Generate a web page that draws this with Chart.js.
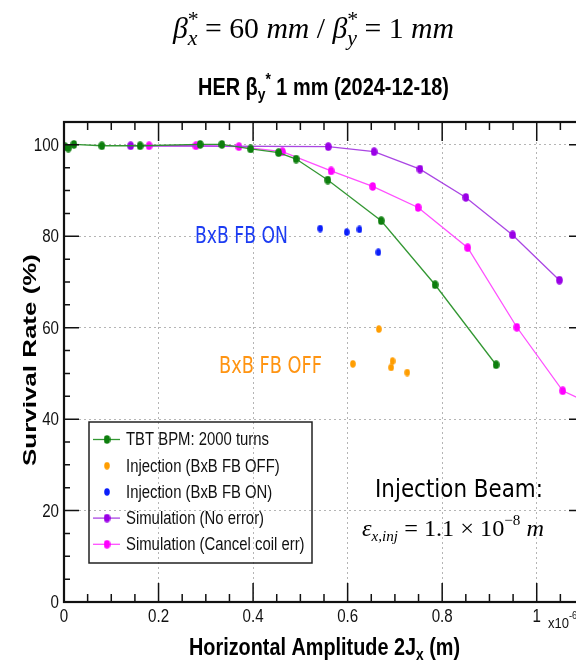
<!DOCTYPE html>
<html>
<head>
<meta charset="utf-8">
<script src="https://cdn.jsdelivr.net/npm/chart.js@4.4.1/dist/chart.umd.min.js"></script>
<style>
  html, body { margin: 0; padding: 0; background: #fff; overflow: hidden; }
  #wrap { width: 576px; height: 665px; overflow: hidden; }
  canvas { display: block; }
</style>
</head>
<body>
<div id="wrap"><canvas id="survivalChart" width="600" height="665"></canvas></div>
<script>
// Horizontal amplitude 2Jx (x1e-6 m) vs. survival rate (%)
const tbtAmp  = [0.002, 0.009, 0.021, 0.080, 0.161, 0.288, 0.334, 0.395, 0.454, 0.491, 0.558, 0.671, 0.785, 0.914];
const tbtRate = [99.6, 99.3, 100.1, 99.8, 99.8, 100.1, 100.1, 99.1, 98.3, 96.9, 92.3, 83.4, 69.4, 51.9];

const injOffAmp  = [0.611, 0.666, 0.692, 0.695, 0.726];
const injOffRate = [52.1, 59.7, 51.3, 52.7, 50.2];

const injOnAmp  = [0.542, 0.598, 0.625, 0.665];
const injOnRate = [81.7, 80.9, 81.5, 76.5];

const simAmp  = [0.141, 0.559, 0.656, 0.753, 0.850, 0.949, 1.048];
const simRate = [99.8, 99.6, 98.5, 94.7, 88.5, 80.3, 70.4];

const coilAmp  = [0.180, 0.279, 0.370, 0.462, 0.565, 0.653, 0.749, 0.854, 0.958, 1.055, 1.150];
const coilRate = [99.8, 99.8, 99.6, 98.5, 94.3, 90.9, 86.3, 77.5, 60.1, 46.2, 41.6];

const xTicks = [0, 0.2, 0.4, 0.6, 0.8, 1];
const xTickLabels = ['0', '0.2', '0.4', '0.6', '0.8', '1'];
const yTicks = [0, 20, 40, 60, 80, 100];
const yTickLabels = ['0', '20', '40', '60', '80', '100'];

const SANS = "'Liberation Sans', Arial, sans-serif";
const SERIF = "'Liberation Serif', 'Times New Roman', serif";
const DJV = "'DejaVu Sans', Verdana, sans-serif";

function toPoints(xs, ys) {
  return xs.map((v, i) => ({ x: v, y: ys[i] }));
}

// Slightly tall elliptical marker, drawn once and reused as pointStyle
function ellipseMark(color, w, h) {
  const c = document.createElement('canvas');
  c.width = w;
  c.height = h;
  const g = c.getContext('2d');
  g.fillStyle = color;
  g.beginPath();
  g.ellipse(w / 2, h / 2, w / 2 - 0.2, h / 2 - 0.2, 0, 0, Math.PI * 2);
  g.fill();
  return c;
}

/**
 * Draw a sequence of text runs (sub/superscripts), squeezed to a target width
 */
function drawRuns(ctx, runs, x, y, opts) {
  ctx.save();
  let natural = 0;
  runs.forEach(r => {
    ctx.font = r.font;
    if (!r.stack) natural += ctx.measureText(r.text).width;
  });
  const sx = opts.width ? opts.width / natural : (opts.sx || 1);
  ctx.translate(x, y);
  if (opts.rotate) ctx.rotate(opts.rotate);
  ctx.scale(sx, opts.sy || 1);
  let cx = opts.align === 'center' ? -natural / 2 : (opts.align === 'right' ? -natural : 0);
  ctx.fillStyle = opts.color || '#000';
  ctx.textBaseline = opts.baseline || 'alphabetic';
  runs.forEach(r => {
    ctx.font = r.font;
    ctx.fillText(r.text, cx, r.dy || 0);
    if (!r.stack) cx += ctx.measureText(r.text).width;
  });
  ctx.restore();
}

const decorations = {
  id: 'decorations',
  afterDraw(chart) {
    const { ctx, chartArea: a, scales: { x, y } } = chart;
    ctx.save();

    // inward ticks on all four sides
    ctx.strokeStyle = '#111';
    ctx.lineWidth = 1.5;
    ctx.beginPath();
    for (let i = 0; i * 0.05 <= x.max + 1e-9; i++) {
      const px = x.getPixelForValue(i * 0.05);
      const major = i % 4 === 0;
      ctx.moveTo(px, a.bottom);
      ctx.lineTo(px, a.bottom - (major ? 19 : 8));
      ctx.moveTo(px, a.top);
      ctx.lineTo(px, a.top + (major ? 19 : 8));
    }
    for (let j = 0; j * 5 <= y.max + 1e-9; j++) {
      const py = y.getPixelForValue(j * 5);
      const major = j % 4 === 0;
      ctx.moveTo(a.left, py);
      ctx.lineTo(a.left + (major ? 15 : 6), py);
      ctx.moveTo(a.right, py);
      ctx.lineTo(a.right - (major ? 15 : 6), py);
    }
    ctx.stroke();

    // frame
    ctx.lineWidth = 2.2;
    ctx.strokeRect(a.left, a.top, a.right - a.left, a.bottom - a.top);

    // tick labels
    ctx.fillStyle = '#111';
    xTicks.forEach((v, i) => {
      drawRuns(ctx, [{ text: xTickLabels[i], font: `18px ${SANS}` }],
        x.getPixelForValue(v), 617, { align: 'center', baseline: 'middle', sx: 0.84, color: '#111' });
    });
    yTicks.forEach((v, i) => {
      drawRuns(ctx, [{ text: yTickLabels[i], font: `18px ${SANS}` }],
        59, y.getPixelForValue(v) + 1, { align: 'right', baseline: 'middle', sx: 0.84, color: '#111' });
    });
    drawRuns(ctx, [
      { text: 'x10', font: `15.5px ${SANS}` },
      { text: '-6', font: `11px ${SANS}`, dy: -9 }
    ], 548, 628, { sx: 0.84, color: '#111' });

    // axis titles
    drawRuns(ctx, [
      { text: 'Horizontal Amplitude 2J', font: `bold 23px ${SANS}` },
      { text: 'x', font: `bold 16px ${SANS}`, dy: 5 },
      { text: ' (m)', font: `bold 23px ${SANS}` }
    ], 189, 655, { width: 271 });
    drawRuns(ctx, [{ text: 'Survival Rate (%)', font: `bold 25px ${SANS}` }],
      31, 360, { rotate: -Math.PI / 2, align: 'center', baseline: 'middle', width: 212, sy: 0.76 });

    // titles
    drawRuns(ctx, [
      { text: 'HER β', font: `bold 23px ${SANS}` },
      { text: 'y', font: `bold 16px ${SANS}`, dy: 5 },
      { text: '*', font: `bold 16px ${SANS}`, dy: -10 },
      { text: ' 1 mm (2024-12-18)', font: `bold 23px ${SANS}` }
    ], 198, 95, { width: 251 });
    drawRuns(ctx, [
      { text: 'β', font: `italic 30px ${SERIF}` },
      { text: '*', font: `22px ${SERIF}`, dy: -12, stack: true },
      { text: 'x', font: `italic 22px ${SERIF}`, dy: 7 },
      { text: ' = 60 ', font: `30px ${SERIF}` },
      { text: 'mm', font: `italic 30px ${SERIF}` },
      { text: ' / ', font: `30px ${SERIF}` },
      { text: 'β', font: `italic 30px ${SERIF}` },
      { text: '*', font: `22px ${SERIF}`, dy: -12, stack: true },
      { text: 'y', font: `italic 22px ${SERIF}`, dy: 7 },
      { text: ' = 1 ', font: `30px ${SERIF}` },
      { text: 'mm', font: `italic 30px ${SERIF}` }
    ], 173, 38, { width: 281 });

    // annotations
    drawRuns(ctx, [{ text: 'BxB FB ON', font: `23px ${DJV}` }], 195, 243, { width: 93, color: '#1c3cf2' });
    drawRuns(ctx, [{ text: 'BxB FB OFF', font: `23px ${DJV}` }], 219, 373, { width: 103, color: '#ff9412' });
    drawRuns(ctx, [{ text: 'Injection Beam:', font: `25px ${DJV}` }], 375, 497, { width: 168 });
    drawRuns(ctx, [
      { text: 'ε', font: `italic 24px ${SERIF}` },
      { text: 'x,inj', font: `italic 15px ${SERIF}`, dy: 5 },
      { text: ' = 1.1 × 10', font: `24px ${SERIF}` },
      { text: '−8', font: `15px ${SERIF}`, dy: -11 },
      { text: ' m', font: `italic 24px ${SERIF}` }
    ], 362, 536, { width: 182 });

    // legend
    const box = { left: 89, top: 422, right: 312, bottom: 563 };
    ctx.lineWidth = 1.5;
    ctx.strokeStyle = '#222';
    ctx.strokeRect(box.left, box.top, box.right - box.left, box.bottom - box.top);
    chart.data.datasets.forEach((ds, i) => {
      const rowY = 439.5 + i * 26.2;
      if (ds.showLine) {
        ctx.strokeStyle = ds.borderColor;
        ctx.lineWidth = 1.3;
        ctx.beginPath();
        ctx.moveTo(93, rowY);
        ctx.lineTo(120, rowY);
        ctx.stroke();
      }
      const mark = ds.pointStyle;
      ctx.drawImage(mark, 107 - mark.width / 2, rowY - mark.height / 2);
      drawRuns(ctx, [{ text: ds.label, font: `17.5px ${SANS}` }], 126, rowY + 1,
        { baseline: 'middle', sx: 0.85, color: '#111' });
    });

    ctx.restore();
  }
};

const gridColor = c => (c.tick && c.tick.value === 0) ? 'rgba(0,0,0,0)' : '#b5b5b5';

new Chart(document.getElementById('survivalChart'), {
  type: 'scatter',
  data: {
    datasets: [
      {
        label: 'TBT BPM: 2000 turns',
        data: toPoints(tbtAmp, tbtRate),
        showLine: true,
        borderColor: 'rgba(40,145,40,0.95)',
        borderWidth: 1.3,
        pointStyle: ellipseMark('#0d7e0d', 7, 9),
        pointRadius: 4
      },
      {
        label: 'Injection (BxB FB OFF)',
        data: toPoints(injOffAmp, injOffRate),
        showLine: false,
        borderColor: '#ff9d00',
        pointStyle: ellipseMark('#ff9d00', 6, 8),
        pointRadius: 4
      },
      {
        label: 'Injection (BxB FB ON)',
        data: toPoints(injOnAmp, injOnRate),
        showLine: false,
        borderColor: '#0a1efa',
        pointStyle: ellipseMark('#0a1efa', 6, 8),
        pointRadius: 4
      },
      {
        label: 'Simulation (No error)',
        data: toPoints(simAmp, simRate),
        showLine: true,
        borderColor: 'rgba(165,60,225,0.95)',
        borderWidth: 1.3,
        pointStyle: ellipseMark('#9a00e6', 7, 9),
        pointRadius: 4
      },
      {
        label: 'Simulation (Cancel coil err)',
        data: toPoints(coilAmp, coilRate),
        showLine: true,
        borderColor: 'rgba(255,70,255,0.95)',
        borderWidth: 1.3,
        pointStyle: ellipseMark('#ff00ff', 7, 9),
        pointRadius: 4
      }
    ]
  },
  options: {
    responsive: false,
    animation: false,
    devicePixelRatio: 1,
    layout: { padding: { top: 122, right: 16, left: 0, bottom: 0 } },
    plugins: {
      legend: { display: false },
      tooltip: { enabled: false }
    },
    scales: {
      x: {
        type: 'linear',
        min: 0,
        max: 1.1,
        afterFit: s => { s.height = 63; },
        afterBuildTicks: s => { s.ticks = xTicks.map(v => ({ value: v })); },
        ticks: { display: false },
        grid: { color: gridColor, lineWidth: 1, drawTicks: false },
        border: { display: false, dash: [2, 3] }
      },
      y: {
        type: 'linear',
        min: 0,
        max: 105,
        afterFit: s => { s.width = 64; },
        afterBuildTicks: s => { s.ticks = yTicks.map(v => ({ value: v })); },
        ticks: { display: false },
        grid: { color: gridColor, lineWidth: 1, drawTicks: false },
        border: { display: false, dash: [2, 3] }
      }
    }
  },
  plugins: [decorations]
});
</script>
</body>
</html>
